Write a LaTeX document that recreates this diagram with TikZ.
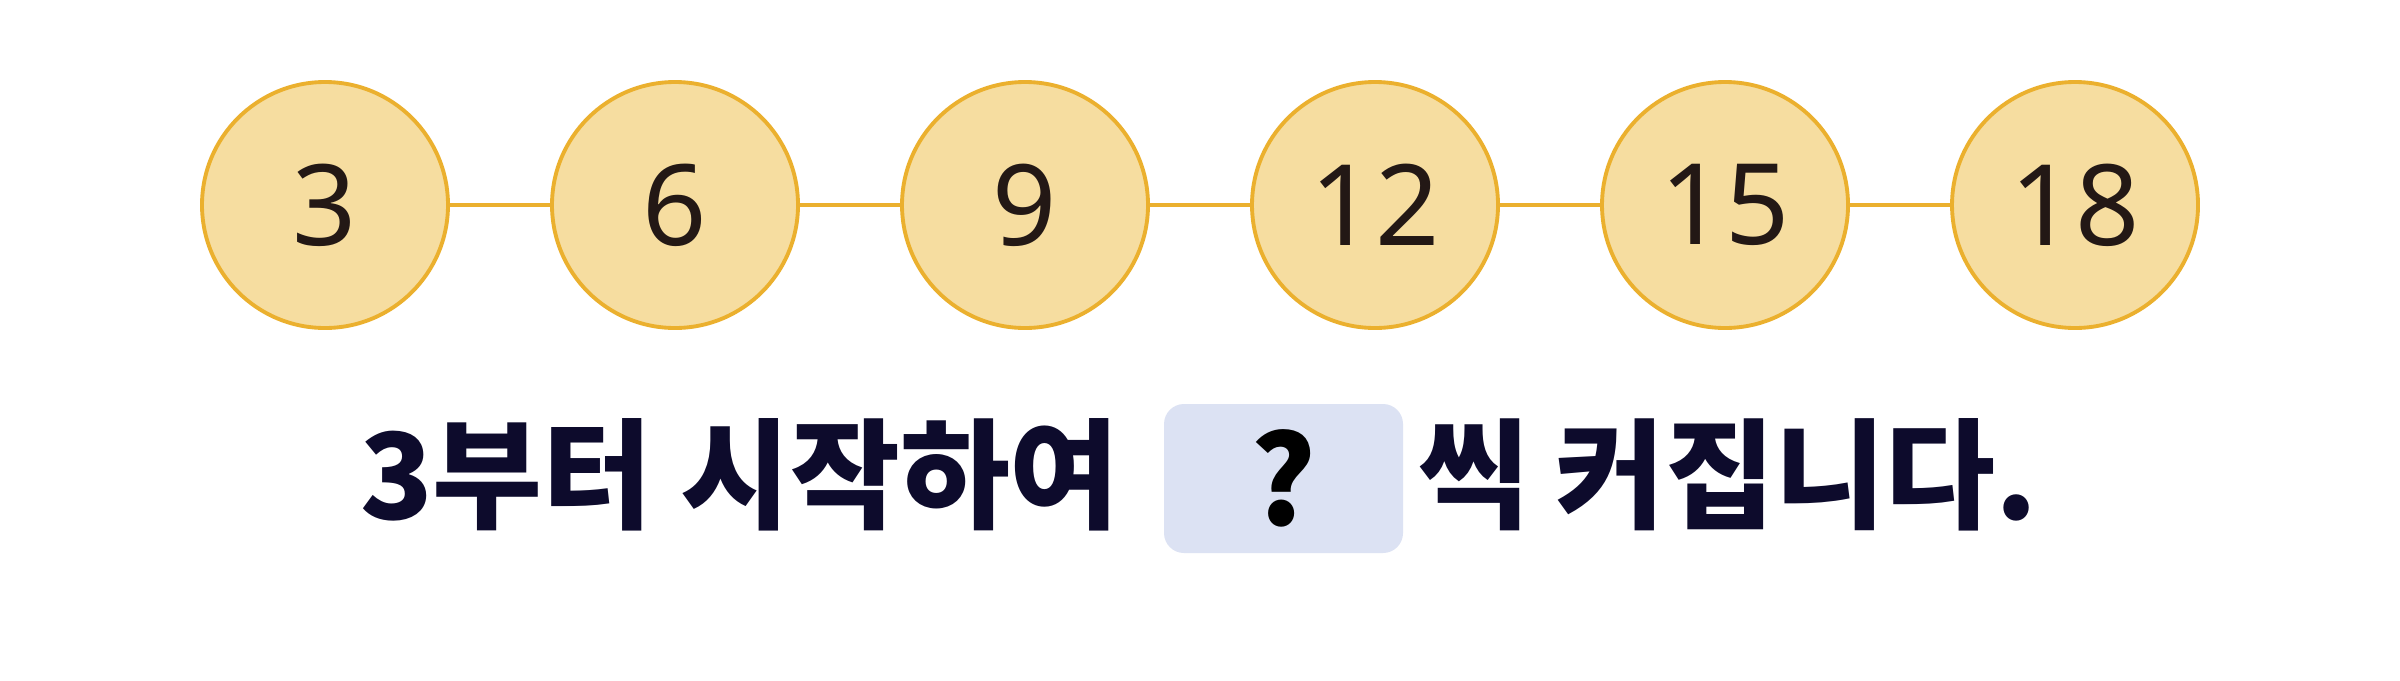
\documentclass[tikz,border=0pt]{standalone}
\usepackage{fontspec}
\newfontfamily\kofont{Noto Sans CJK KR}
\newfontfamily\numfont{Noto Sans}
\definecolor{ballfill}{HTML}{F6DDA0}
\definecolor{balledge}{HTML}{EBB02E}
\definecolor{blankfill}{HTML}{DCE2F3}
\definecolor{inkblue}{HTML}{0D0B2C}
\definecolor{digitink}{HTML}{231815}
\tikzset{
  ball/.style={circle,draw=balledge,fill=ballfill,line width=1.1pt,minimum size=2.46cm,inner sep=0pt,
    font=\numfont\fontsize{32}{32}\selectfont,text=digitink},
  link/.style={balledge,line width=0.9pt},
  sentence/.style={inner sep=0pt,anchor=base,text=inkblue,font=\kofont\bfseries\fontsize{34}{34}\selectfont},
  blank/.style={fill=blankfill,rounded corners=0.2cm,minimum width=2.39cm,minimum height=1.49cm,inner sep=0pt,
    text=black,font=\kofont\bfseries\fontsize{35}{35}\selectfont}
}
\begin{document}
\begin{tikzpicture}
		    \useasboundingbox[fill=white](0,0) rectangle (24,6.8);
		    \node[ball] (n3) at (3.25,4.75) {3};
		    \node[ball] (n6) at (6.75,4.75) {6};
		    \node[ball] (n9) at (10.25,4.75) {9};
		    \node[ball] (n12) at (13.75,4.75) {12};
		    \node[ball] (n15) at (17.25,4.75) {15};
		    \node[ball] (n18) at (20.75,4.75) {18};
		    \draw[link](n3)--(n6);
		    \draw[link](n6)--(n9);
		    \draw[link](n9)--(n12);
		    \draw[link](n12)--(n15);
		    \draw[link](n15)--(n18);
		    \node[sentence] (start) at (7.40,1.61) {3부터 시작하여};
		    \node[blank] (ask) at (12.835,2.015) {?};
		    \node[sentence] (grow) at (17.28,1.61) {씩 커집니다.};
		\end{tikzpicture}
\end{document}
